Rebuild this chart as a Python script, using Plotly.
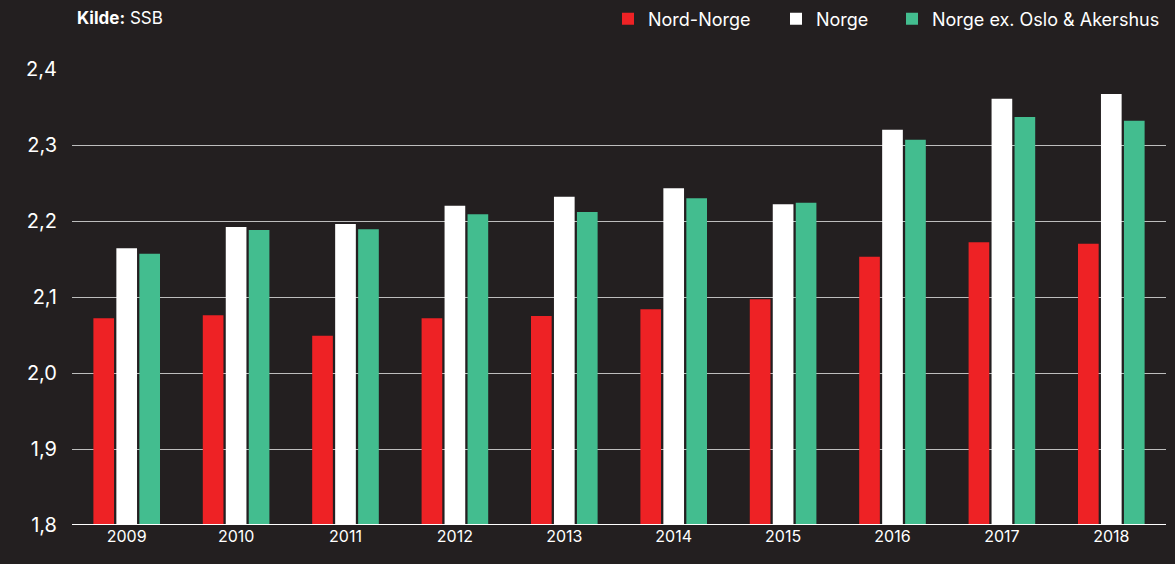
import plotly.graph_objects as go

years = ["2009", "2010", "2011", "2012", "2013", "2014", "2015", "2016", "2017", "2018"]
nord_norge = [2.072, 2.076, 2.049, 2.072, 2.075, 2.084, 2.097, 2.153, 2.172, 2.170]
norge = [2.164, 2.192, 2.196, 2.220, 2.232, 2.243, 2.222, 2.320, 2.361, 2.367]
norge_ex = [2.157, 2.188, 2.189, 2.209, 2.212, 2.230, 2.224, 2.307, 2.337, 2.332]
y_ticks = [1.8, 1.9, 2.0, 2.1, 2.2, 2.3, 2.4]
y_labels = ["1,8", "1,9", "2,0", "2,1", "2,2", "2,3", "2,4"]

BG = "#231f20"
FONT = "Inter, Roboto, sans-serif"

fig = go.Figure()
fig.add_bar(x=years, y=nord_norge, name="Nord-Norge", legend="legend",
            marker=dict(color="#ee2225", line_width=0))
fig.add_bar(x=years, y=norge, name="Norge", legend="legend2",
            marker=dict(color="#ffffff", line_width=0))
fig.add_bar(x=years, y=norge_ex, name="Norge ex. Oslo & Akershus", legend="legend3",
            marker=dict(color="#43bd8f", line_width=0))

def leg(xpx):
    return dict(orientation="h", x=xpx / 1175, xanchor="left", y=1 - 19 / 564, yanchor="middle",
                yref="container", xref="container", font=dict(size=18, color="#ffffff"),
                bgcolor="rgba(0,0,0,0)")

fig.update_layout(
    width=1175, height=564,
    paper_bgcolor=BG, plot_bgcolor=BG,
    margin=dict(l=72, r=9, t=69, b=39),
    barmode="group", bargap=0.37, bargroupgap=0.1,
    font=dict(family=FONT, color="#ffffff"),
    legend=leg(608), legend2=leg(776), legend3=leg(892),
    showlegend=True,
    xaxis=dict(showgrid=False, showline=False, zeroline=False, ticks="",
               tickfont=dict(size=16, color="#ffffff")),
    yaxis=dict(range=[1.8, 2.4], tickvals=y_ticks, ticktext=y_labels,
               showgrid=True, gridcolor="#bdbdbd", gridwidth=1, zeroline=False,
               showline=False, ticks="", ticklabelstandoff=14,
               tickfont=dict(size=20, color="#ffffff")),
    annotations=[dict(text="<b>Kilde:</b> SSB", xref="paper", yref="paper",
                      x=0.0, y=1.0, yshift=51, yanchor="middle", xanchor="left", xshift=3,
                      showarrow=False, font=dict(size=17, color="#ffffff", family=FONT))],
)
fig.add_shape(type="line", xref="paper", yref="y", x0=0, x1=1, y0=1.8, y1=1.8,
              line=dict(color="#ffffff", width=2))
fig.write_html("out.html", config={"displayModeBar": False},
               post_script="document.body.style.margin='0';")
